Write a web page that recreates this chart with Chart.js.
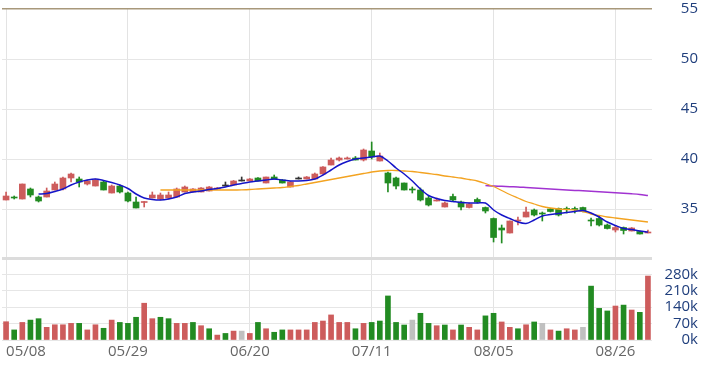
<!DOCTYPE html>
<html>

<head>
  <meta charset="utf-8">
  <title>K線圖</title>
  <style>
    body { margin: 0; background: #fff; }
    .box { position: absolute; left: 0; width: 706px; }
  </style>
</head>

<body>
  <div class="box" style="top:0;height:258px"><canvas id="graficoPreco"></canvas></div>
  <div class="box" style="top:256px;height:114px"><canvas id="graficoVolume"></canvas></div>

  <script src="https://cdn.jsdelivr.net/npm/chart.js"></script>
  <script>
    // datas (dias de pregão)
    const datas = [
      '05/08','05/09','05/10','05/13','05/14','05/15','05/16','05/17','05/20','05/21',
      '05/22','05/23','05/24','05/27','05/28','05/29','05/30','05/31','06/03','06/04',
      '06/05','06/06','06/07','06/11','06/12','06/13','06/14','06/17','06/18','06/19',
      '06/20','06/21','06/24','06/25','06/26','06/27','06/28','07/01','07/02','07/03',
      '07/04','07/05','07/08','07/09','07/10','07/11','07/12','07/15','07/16','07/17',
      '07/18','07/19','07/22','07/23','07/26','07/29','07/30','07/31','08/01','08/02',
      '08/05','08/06','08/07','08/08','08/09','08/12','08/13','08/14','08/15','08/16',
      '08/19','08/20','08/21','08/22','08/23','08/26','08/27','08/28','08/29','08/30'
    ];
    const datasVisiveis = ['05/08', '05/29', '06/20', '07/11', '08/05', '08/26'];

    const abertura = [
      35.9, 36.2, 36.0, 37.0, 36.2, 36.2, 36.9, 37.0, 38.1, 38.0,
      37.5, 37.3, 37.7, 36.6, 37.3, 36.6, 35.7, 35.65, 36.1, 36.0,
      36.1, 36.2, 36.7, 36.7, 36.7, 36.8, 37.0, 37.3, 37.4, 37.8,
      37.8, 38.1, 37.6, 38.2, 37.9, 37.2, 38.0, 38.0, 38.0, 38.5,
      39.4, 39.9, 40.0, 40.1, 39.9, 40.8, 39.8, 38.6, 38.1, 37.6,
      37.0, 36.9, 36.1, 35.8, 35.2, 36.25, 35.7, 35.15, 35.95, 35.15,
      34.05, 33.1, 32.6, 33.8, 34.2, 34.9, 34.55, 35.0, 35.05, 35.0,
      35.0, 35.15, 33.85, 34.05, 33.4, 32.9, 33.15, 32.8, 32.75, 32.6
    ];
    const maxima = [
      36.7, 36.3, 37.5, 37.1, 36.3, 37.1, 37.7, 38.2, 38.6, 38.2,
      37.9, 38.0, 37.8, 37.4, 37.4, 36.7, 36.2, 35.75, 36.7, 36.6,
      36.7, 37.1, 37.3, 37.05, 37.15, 37.25, 37.15, 37.7, 37.85, 38.2,
      38.05, 38.15, 38.2, 38.4, 37.95, 37.75, 38.2, 38.25, 38.6, 39.25,
      40.1, 40.2, 40.2, 40.25, 41.0, 41.7, 40.6, 38.7, 38.2, 37.6,
      37.2, 37.1, 36.3, 36.1, 35.7, 36.5, 35.8, 35.6, 36.1, 35.2,
      34.1, 33.4, 33.8, 34.2, 35.2, 35.0, 34.7, 35.05, 35.1, 35.2,
      35.2, 35.2, 34.1, 34.3, 33.5, 33.3, 33.2, 33.15, 32.8, 32.9
    ];
    const minima = [
      35.9, 36.0, 36.0, 36.2, 35.7, 36.2, 36.9, 36.9, 37.7, 37.2,
      37.4, 37.3, 36.9, 36.6, 36.6, 35.7, 35.1, 35.2, 36.1, 35.9,
      36.0, 36.2, 36.7, 36.7, 36.7, 36.8, 37.0, 37.3, 37.4, 37.8,
      37.8, 37.8, 37.6, 38.0, 37.6, 37.2, 38.0, 38.0, 38.0, 38.5,
      39.4, 39.8, 40.0, 39.9, 39.8, 40.0, 39.8, 36.7, 37.0, 36.9,
      36.6, 35.8, 35.3, 35.8, 35.2, 35.8, 34.9, 35.1, 35.6, 34.6,
      31.7, 31.6, 32.6, 33.4, 34.2, 34.3, 33.8, 34.7, 34.3, 34.6,
      34.6, 34.7, 33.3, 33.3, 33.0, 32.7, 32.5, 32.8, 32.5, 32.6
    ];
    const fechamento = [
      36.3, 36.1, 37.5, 36.4, 35.8, 36.8, 37.5, 38.1, 38.5, 37.7,
      37.8, 37.9, 36.9, 37.3, 36.7, 35.8, 35.1, 35.75, 36.4, 36.4,
      36.4, 37.0, 37.2, 37.0, 37.1, 37.2, 37.1, 37.3, 37.8, 37.8,
      38.0, 37.8, 38.2, 38.0, 37.6, 37.7, 38.0, 38.2, 38.5, 39.2,
      39.9, 40.1, 40.1, 39.9, 40.9, 40.2, 40.3, 37.6, 37.3, 36.9,
      36.9, 35.9, 35.4, 35.9, 35.6, 35.9, 35.2, 35.5, 35.7, 34.8,
      32.15, 32.9, 33.8, 33.9, 34.7, 34.4, 34.5, 34.75, 34.4, 34.95,
      34.95, 34.8, 33.8, 33.4, 33.05, 33.15, 32.85, 33.1, 32.5, 32.65
    ];

    // médias móveis
    const media5 = [
      null, null, null, null, 36.5, 36.55, 36.75, 37.0, 37.4, 37.7,
      37.9, 38.0, 37.85, 37.65, 37.4, 37.05, 36.5, 36.1, 35.95, 35.9,
      36.0, 36.2, 36.55, 36.7, 36.8, 36.95, 37.05, 37.2, 37.4, 37.55,
      37.7, 37.8, 37.9, 38.0, 37.9, 37.8, 37.8, 37.85, 38.0, 38.4,
      38.9, 39.4, 39.75, 40.0, 40.1, 40.2, 40.3, 39.8, 39.1, 38.5,
      37.8, 37.0, 36.35, 36.05, 35.85, 35.75, 35.65, 35.6, 35.6, 35.6,
      34.9, 34.4, 34.05, 33.7, 33.55, 33.9, 34.3, 34.45, 34.55, 34.65,
      34.75, 34.85, 34.6, 34.2, 33.7, 33.35, 33.05, 32.95, 32.8, 32.7
    ];
    const media20 = [
      null, null, null, null, null, null, null, null, null, null,
      null, null, null, null, null, null, null, null, null, 36.9,
      36.9, 36.9, 36.9, 36.9, 36.9, 36.9, 36.9, 36.9, 36.9, 36.92,
      36.95, 37.0, 37.05, 37.1, 37.15, 37.25, 37.35, 37.5, 37.65, 37.8,
      37.95, 38.1, 38.25, 38.4, 38.55, 38.7, 38.8, 38.85, 38.85, 38.8,
      38.75, 38.65, 38.55, 38.45, 38.3, 38.2, 38.1, 37.95, 37.8, 37.55,
      37.25, 36.85, 36.45, 36.1, 35.75, 35.5, 35.25, 35.1, 35.0, 34.95,
      34.9, 34.75, 34.5, 34.35, 34.2, 34.1, 34.0, 33.9, 33.8, 33.7
    ];
    const media60 = [
      null, null, null, null, null, null, null, null, null, null,
      null, null, null, null, null, null, null, null, null, null,
      null, null, null, null, null, null, null, null, null, null,
      null, null, null, null, null, null, null, null, null, null,
      null, null, null, null, null, null, null, null, null, null,
      null, null, null, null, null, null, null, null, null, 37.35,
      37.3, 37.27, 37.23, 37.2, 37.15, 37.1, 37.05, 37.0, 36.95, 36.9,
      36.86, 36.82, 36.78, 36.73, 36.68, 36.63, 36.58, 36.52, 36.45, 36.35
    ];

    // volume (lotes) e direção: u = alta, d = baixa, n = estável
    const volume = [
      78000, 43000, 75000, 85000, 91000, 54000, 65000, 65000, 71000, 71000,
      43000, 65000, 50000, 85000, 75000, 71000, 97000, 157000, 91000, 97000,
      91000, 71000, 71000, 75000, 61000, 48000, 21000, 28000, 38000, 38000,
      28000, 75000, 48000, 33000, 43000, 43000, 43000, 43000, 75000, 81000,
      107000, 75000, 75000, 48000, 71000, 75000, 81000, 188000, 75000, 64000,
      85000, 114000, 71000, 61000, 64000, 43000, 64000, 54000, 43000, 103000,
      114000, 77000, 54000, 48000, 65000, 77000, 71000, 43000, 38000, 48000,
      43000, 54000, 230000, 135000, 124000, 145000, 149000, 128000, 118000, 273000
    ];
    const direcaoVolume = [
      'u','d','u','d','d','u','u','u','u','d',
      'u','u','d','u','d','d','d','u','u','d',
      'd','u','u','d','u','d','u','d','u','n',
      'u','d','u','d','d','u','u','u','u','u',
      'u','u','u','d','u','d','d','d','d','d',
      'n','d','d','u','d','u','d','u','u','d',
      'd','u','u','d','u','d','n','u','d','u',
      'u','n','d','d','d','u','d','u','d','u'
    ];

    const precoTicks = [35, 40, 45, 50, 55];
    const volumeTicks = [0, 70000, 140000, 210000, 280000, 350000];

    const VERMELHO = '#cd5c5c';
    const VERDE = '#228b22';
    const CINZA = '#c0c0c0';
    const LARGURA_EIXO = 46;
    const FONTE = "'Open Sans', sans-serif";

    Chart.defaults.font.family = FONTE;
    Chart.defaults.font.size = 15;
    Chart.defaults.animation = false;

    // medir rótulos para alinhar à direita
    const medidor = document.createElement('canvas').getContext('2d');
    medidor.font = '15px ' + FONTE;
    const largPreco = medidor.measureText('55').width;
    const largVolume = medidor.measureText('280k').width;

    const corCandle = datas.map((d, i) =>
      fechamento[i] > abertura[i] ? VERMELHO : fechamento[i] < abertura[i] ? VERDE : '#333333');
    const corVolume = direcaoVolume.map((d) => d === 'u' ? VERMELHO : d === 'd' ? VERDE : CINZA);

    function filtrarDatas(scale) {
      scale.ticks = scale.ticks.filter((t) =>
        datasVisiveis.includes(datas[t.value]) || t.value === datas.length - 1);
    }

    function eixoX(mostrarRotulos) {
      return {
        type: 'category',
        offset: true,
        afterBuildTicks: filtrarDatas,
        afterFit: (scale) => {
          scale.paddingLeft = 0;
          scale.paddingRight = 0;
          scale.height = mostrarRotulos ? 30 : 0;
        },
        grid: {
          offset: false,
          drawTicks: false,
          color: (ctx) => ctx.tick && ctx.tick.value === datas.length - 1 ? 'rgba(0,0,0,0)' : '#e3e3e3'
        },
        border: { display: false },
        ticks: {
          display: mostrarRotulos,
          autoSkip: false,
          maxRotation: 0,
          align: 'inner',
          padding: 3,
          color: '#666666',
          callback: (v) => datasVisiveis.includes(datas[v]) ? datas[v] : ''
        }
      };
    }

    new Chart(document.getElementById('graficoPreco'), {
      data: {
        labels: datas,
        datasets: [
          { type: 'line', data: media5, borderColor: '#1515c8', borderWidth: 1.5, pointRadius: 0, tension: 0.3, order: 0 },
          { type: 'line', data: media20, borderColor: '#f3a321', borderWidth: 1.3, pointRadius: 0, tension: 0.3, order: 0 },
          { type: 'line', data: media60, borderColor: '#a133d1', borderWidth: 1.5, pointRadius: 0, tension: 0.3, order: 0 },
          {
            type: 'bar', order: 1, grouped: false, barThickness: 1,
            data: datas.map((d, i) => [minima[i], maxima[i]]),
            backgroundColor: corCandle
          },
          {
            type: 'bar', order: 1, grouped: false, barThickness: 6, minBarLength: 1,
            data: datas.map((d, i) => [Math.min(abertura[i], fechamento[i]), Math.max(abertura[i], fechamento[i])]),
            backgroundColor: corCandle
          }
        ]
      },
      options: {
        responsive: true,
        maintainAspectRatio: false,
        layout: { padding: { left: 2, right: 8, top: 9, bottom: 0 } },
        plugins: { legend: { display: false }, tooltip: { enabled: false } },
        scales: {
          x: eixoX(false),
          y: {
            position: 'right',
            min: 30.1,
            max: 55,
            afterBuildTicks: (scale) => { scale.ticks = precoTicks.map((v) => ({ value: v })); },
            afterFit: (scale) => { scale.width = LARGURA_EIXO; scale.paddingTop = 0; scale.paddingBottom = 0; },
            grid: {
              drawTicks: false,
              color: (ctx) => ctx.tick && ctx.tick.value === 55 ? '#a8987a' : '#e6e6e6',
              lineWidth: (ctx) => ctx.tick && ctx.tick.value === 55 ? 1.5 : 1
            },
            border: { display: false },
            ticks: {
              autoSkip: false,
              crossAlign: 'far',
              padding: LARGURA_EIXO - largPreco,
              color: '#1f3e7c'
            }
          }
        }
      }
    });

    new Chart(document.getElementById('graficoVolume'), {
      data: {
        labels: datas,
        datasets: [{
          type: 'bar', data: volume, backgroundColor: corVolume, barThickness: 5
        }]
      },
      options: {
        responsive: true,
        maintainAspectRatio: false,
        layout: { padding: { left: 2, right: 8, top: 2, bottom: 0 } },
        plugins: { legend: { display: false }, tooltip: { enabled: false } },
        scales: {
          x: eixoX(true),
          y: {
            position: 'right',
            min: 0,
            max: 350000,
            afterBuildTicks: (scale) => { scale.ticks = volumeTicks.map((v) => ({ value: v })); },
            afterFit: (scale) => { scale.width = LARGURA_EIXO; scale.paddingTop = 0; scale.paddingBottom = 0; },
            grid: {
              drawTicks: false,
              color: (ctx) => ctx.tick && ctx.tick.value === 350000 ? '#dcdcdc' : '#e6e6e6',
              lineWidth: (ctx) => ctx.tick && ctx.tick.value === 350000 ? 3 : 1
            },
            border: { display: false },
            ticks: {
              autoSkip: false,
              crossAlign: 'far',
              padding: LARGURA_EIXO - largVolume,
              color: '#1f3e7c',
              callback: (v) => v === 350000 ? '' : (v / 1000) + 'k'
            }
          }
        }
      }
    });
  </script>
</body>
</html>
